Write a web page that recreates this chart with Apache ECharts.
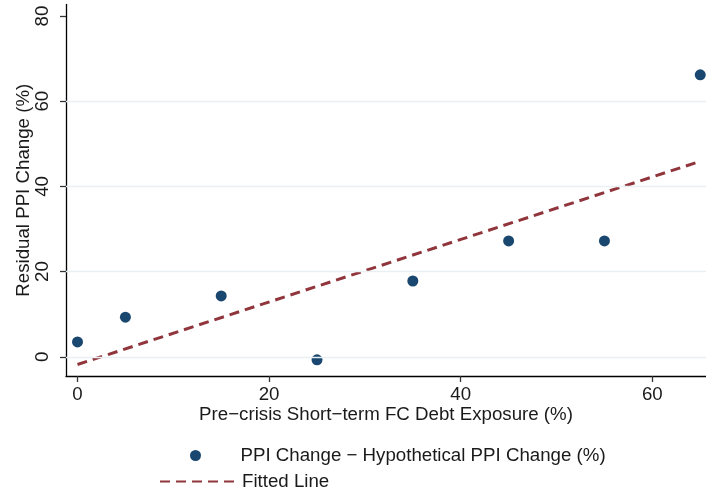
<!DOCTYPE html>
<html>
<head>
<meta charset="utf-8">
<script src="https://cdn.jsdelivr.net/npm/echarts@6/dist/echarts.min.js"></script>
<style>html,body{margin:0;padding:0;background:#fff;}#chart{width:706px;height:491px;}</style>
</head>
<body>
<div id="chart"></div>
<script>
const exposure = [0, 5, 15, 25, 35, 45, 55, 65];
const ppiResidual = [3.5, 9.3, 14.3, -0.7, 17.8, 27.2, 27.2, 66.2];
const fitX = [0, 65];
const fitY = [-1.8, 45.9];
const xTicks = [0, 20, 40, 60];
const yTicks = [0, 20, 40, 60, 80];
const gridTicks = [0, 20, 40, 60];
const scatterName = 'PPI Change − Hypothetical PPI Change (%)';
const lineName = 'Fitted Line';

const FONT = 'Liberation Sans';
const FS = 18.7;
const TXT = '#1a1a1a';
const chart = echarts.init(document.getElementById('chart'), null, {renderer: 'canvas'});
chart.setOption({
  animation: false,
  backgroundColor: '#ffffff',
  textStyle: {fontFamily: FONT},
  grid: {left: 66, right: 0, top: 4.5, bottom: 115, containLabel: false},
  legend: [
    {
      orient: 'vertical',
      left: 185,
      top: 441,
      itemWidth: 80,
      itemHeight: 11,
      textStyle: {fontFamily: FONT, fontSize: FS, color: TXT},
      data: [{name: scatterName, icon: 'circle'}]
    },
    {
      orient: 'vertical',
      left: 154,
      top: 467,
      itemWidth: 77,
      itemHeight: 11,
      textStyle: {fontFamily: FONT, fontSize: FS, color: TXT},
      data: [{name: lineName, itemStyle: {opacity: 0, borderWidth: 0}}]
    }
  ],
  xAxis: {
    type: 'value',
    min: -1.2,
    max: 65.6,
    name: 'Pre−crisis Short−term FC Debt Exposure (%)',
    nameLocation: 'middle',
    nameGap: 29,
    nameMoveOverlap: false,
    nameTextStyle: {fontFamily: FONT, fontSize: FS, color: TXT},
    axisLine: {show: true, onZero: false, lineStyle: {color: '#000', width: 1.3}},
    axisTick: {show: true, length: 6, customValues: xTicks, lineStyle: {color: '#333', width: 1.3}},
    axisLabel: {customValues: xTicks, fontFamily: FONT, fontSize: FS, color: TXT, margin: 9},
    splitLine: {show: false}
  },
  yAxis: {
    type: 'value',
    min: -4.5,
    max: 82.7,
    name: 'Residual PPI Change (%)',
    nameLocation: 'middle',
    nameGap: 33,
    nameMoveOverlap: false,
    nameRotate: 90,
    nameTextStyle: {fontFamily: FONT, fontSize: FS, color: TXT},
    axisLine: {show: true, onZero: false, lineStyle: {color: '#000', width: 1.3}},
    axisTick: {show: true, length: 6, customValues: yTicks, lineStyle: {color: '#333', width: 1.3}},
    axisLabel: {customValues: yTicks, rotate: 90, fontFamily: FONT, fontSize: FS, color: TXT, margin: 14},
    splitLine: {show: false}
  },
  series: [
    {
      name: 'grid',
      type: 'line',
      data: [],
      z: 1,
      silent: true,
      markLine: {
        silent: true,
        symbol: 'none',
        label: {show: false},
        lineStyle: {color: '#e8f0f1', width: 1.4, type: 'solid'},
        data: gridTicks.map(v => ({yAxis: v}))
      }
    },
    {
      name: lineName,
      type: 'line',
      z: 2,
      symbol: 'none',
      data: fitX.map((x, i) => [x, fitY[i]]),
      lineStyle: {color: '#90353b', width: 3, type: [10, 6]},
      itemStyle: {color: '#90353b'}
    },
    {
      name: scatterName,
      type: 'scatter',
      z: 3,
      symbol: 'circle',
      symbolSize: 11,
      data: exposure.map((x, i) => [x, ppiResidual[i]]),
      itemStyle: {color: '#1a476f', opacity: 1}
    }
  ]
});
</script>
</body>
</html>
